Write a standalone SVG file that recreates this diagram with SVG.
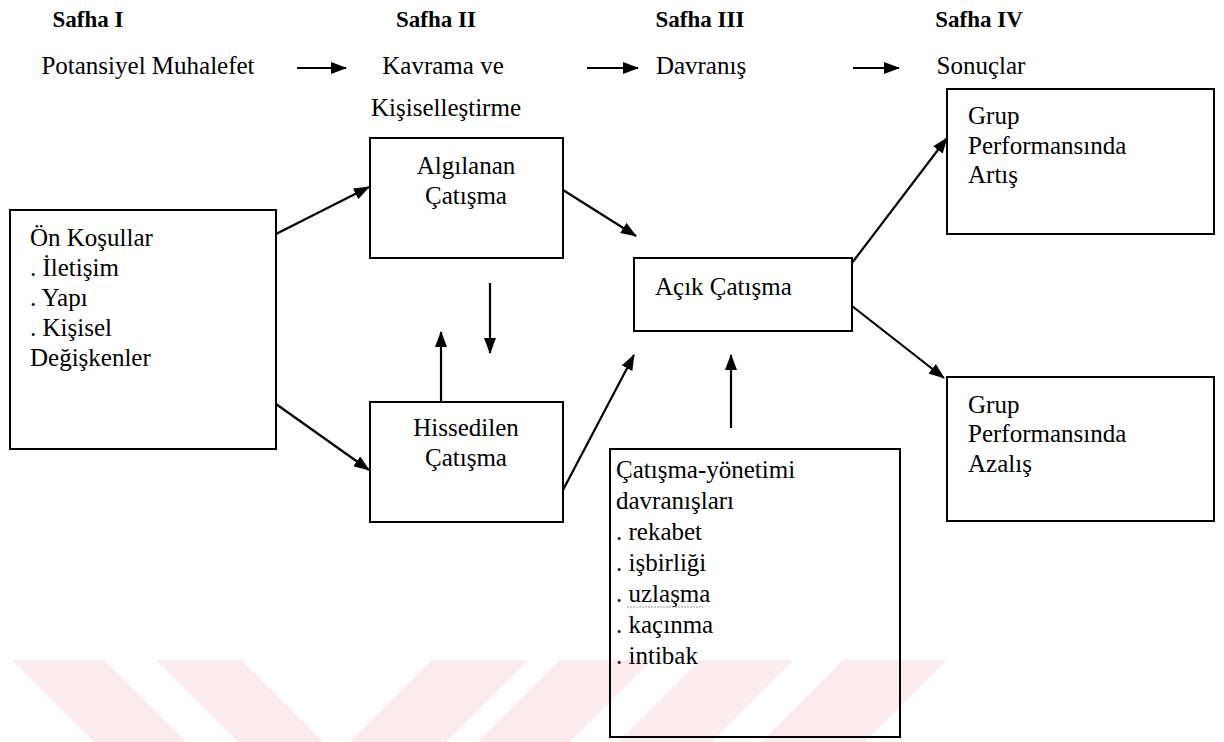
<svg xmlns="http://www.w3.org/2000/svg" width="1224" height="742" viewBox="0 0 1224 742">
<style>
  .t{font-family:"Liberation Serif","Times New Roman",serif;font-size:25px;fill:#000}
  .h{font-weight:bold;font-size:23px}
  .box{fill:none;stroke:#000;stroke-width:2}
  .con{stroke:#000;stroke-width:2.2;fill:none;marker-end:url(#ah)}
  .wm{fill:#fcebee}
</style>
<defs>
  <marker id="ah" viewBox="0 0 16 12" refX="15" refY="6" markerWidth="16" markerHeight="12" markerUnits="userSpaceOnUse" orient="auto">
    <path d="M0,0 L16,6 L0,12 z" fill="#000"/>
  </marker>
</defs>
<rect width="1224" height="742" fill="#fff"/>
<g id="watermark">
  <polygon class="wm" points="12,660 104,660 186,742 94,742"/>
  <polygon class="wm" points="156,660 242,660 324,742 238,742"/>
  <polygon class="wm" points="432,660 528,660 446,742 350,742"/>
  <polygon class="wm" points="560,660 652,660 570,742 478,742"/>
  <polygon class="wm" points="700,660 793,660 711,742 618,742"/>
  <polygon class="wm" points="843,660 947,660 865,742 761,742"/>
</g>
<g id="headers">
  <text class="t h" x="88" y="27" text-anchor="middle">Safha I</text>
  <text class="t h" x="436" y="27" text-anchor="middle">Safha II</text>
  <text class="t h" x="700" y="27" text-anchor="middle">Safha III</text>
  <text class="t h" x="979" y="27" text-anchor="middle">Safha IV</text>
  <text class="t" x="148" y="74" text-anchor="middle">Potansiyel Muhalefet</text>
  <text class="t" x="443" y="74" text-anchor="middle">Kavrama ve</text>
  <text class="t" x="446" y="116" text-anchor="middle">Kişiselleştirme</text>
  <text class="t" x="701" y="74" text-anchor="middle">Davranış</text>
  <text class="t" x="981" y="74" text-anchor="middle">Sonuçlar</text>
</g>
<g id="connectors">
  <line class="con" x1="297" y1="68" x2="346" y2="68"/>
  <line class="con" x1="587" y1="68" x2="638" y2="68"/>
  <line class="con" x1="853" y1="68" x2="899" y2="68"/>
  <line class="con" x1="276" y1="234" x2="369" y2="187"/>
  <line class="con" x1="276" y1="404" x2="369" y2="470"/>
  <line class="con" x1="563" y1="190" x2="636" y2="236"/>
  <line class="con" x1="490" y1="283" x2="490" y2="353"/>
  <line class="con" x1="441" y1="402" x2="441" y2="332"/>
  <line class="con" x1="563" y1="490" x2="634" y2="355"/>
  <line class="con" x1="731" y1="428" x2="731" y2="355"/>
  <line class="con" x1="852" y1="263" x2="947" y2="138"/>
  <line class="con" x1="852" y1="306" x2="944" y2="378"/>
</g>
<g id="on-kosullar">
  <rect class="box" x="10" y="210" width="266" height="239"/>
  <text class="t" x="30" y="246">Ön Koşullar</text>
  <text class="t" x="30" y="276">. İletişim</text>
  <text class="t" x="30" y="306">. Yapı</text>
  <text class="t" x="30" y="336">. Kişisel</text>
  <text class="t" x="30" y="366">Değişkenler</text>
</g>
<g id="algilanan">
  <rect class="box" x="370" y="138" width="193" height="120"/>
  <text class="t" x="466" y="174" text-anchor="middle">Algılanan</text>
  <text class="t" x="466" y="204" text-anchor="middle">Çatışma</text>
</g>
<g id="hissedilen">
  <rect class="box" x="370" y="402" width="193" height="120"/>
  <text class="t" x="466" y="436" text-anchor="middle">Hissedilen</text>
  <text class="t" x="466" y="466" text-anchor="middle">Çatışma</text>
</g>
<g id="acik">
  <rect class="box" x="634" y="258" width="218" height="73"/>
  <text class="t" x="655" y="295">Açık Çatışma</text>
</g>
<g id="yonetim">
  <rect class="box" x="610" y="449" width="290" height="288"/>
  <text class="t" x="616" y="478">Çatışma-yönetimi</text>
  <text class="t" x="616" y="509">davranışları</text>
  <text class="t" x="616" y="540">. rekabet</text>
  <text class="t" x="616" y="571">. işbirliği</text>
  <text class="t" x="616" y="602">. uzlaşma</text>
  <line x1="627" y1="607" x2="703" y2="607" stroke="#999" stroke-width="1" stroke-dasharray="2,1"/>
  <text class="t" x="616" y="633">. kaçınma</text>
  <text class="t" x="616" y="664">. intibak</text>
</g>
<g id="artis">
  <rect class="box" x="947" y="89" width="267" height="145"/>
  <text class="t" x="968" y="124">Grup</text>
  <text class="t" x="968" y="154">Performansında</text>
  <text class="t" x="968" y="183">Artış</text>
</g>
<g id="azalis">
  <rect class="box" x="947" y="377" width="267" height="144"/>
  <text class="t" x="968" y="413">Grup</text>
  <text class="t" x="968" y="442">Performansında</text>
  <text class="t" x="968" y="472">Azalış</text>
</g>
</svg>
